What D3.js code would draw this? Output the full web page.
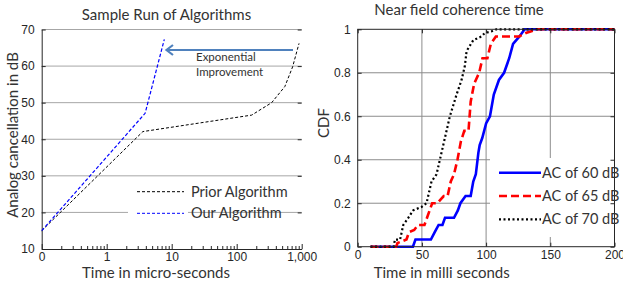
<!DOCTYPE html>
<html>
<head>
<meta charset="utf-8">
<script src="https://cdn.jsdelivr.net/npm/d3@7"></script>
<style>
  body { margin: 0; background: #fff; }
  svg { display: block; }
  .tick text { font-family: "Liberation Sans", Arial, sans-serif; font-size: 12px; fill: #262626; }
  .lbl { font-family: Lato, "Open Sans", sans-serif; fill: #333; }
</style>
</head>
<body>
<script>
// ---- left chart data: sample run of algorithms ----
var priorTime = [0.1, 3.6, 170, 345, 550, 725, 910];
var priorDb   = [15, 42.1, 46.6, 50, 54.4, 59.8, 66.2];
var ourTime   = [0.1, 3.9, 7.7];
var ourDb     = [15, 47.1, 67.3];
var leftXTicks  = [0.1, 1, 10, 100, 1000];
var leftXLabels = ["0", "1", "10", "100", "1,000"];
var leftYTicks  = [10, 20, 30, 40, 50, 60, 70];

// ---- right chart data: CDF of near field coherence time ----
var ac60X = [10, 43, 45, 57, 60, 63, 66, 68, 75, 78, 80, 84, 88, 90, 92, 94, 95, 97, 100, 103, 106, 110, 114, 118, 121, 126, 130, 200];
var ac60Y = [0, 0, 0.033, 0.033, 0.067, 0.1, 0.1, 0.133, 0.133, 0.167, 0.2, 0.233, 0.233, 0.3, 0.333, 0.433, 0.467, 0.5, 0.567, 0.6, 0.7, 0.767, 0.8, 0.867, 0.933, 0.967, 1, 1];
var ac65X = [10, 30, 31, 38, 40, 44, 47, 52, 54, 58, 62, 67, 70, 72.5, 75, 77.7, 80.3, 83, 86.3, 88, 90.7, 94.6, 97.2, 101, 103.7, 107.6, 125.8, 131, 140, 200];
var ac65Y = [0, 0, 0.017, 0.033, 0.067, 0.077, 0.1, 0.1, 0.133, 0.2, 0.2, 0.233, 0.233, 0.3, 0.333, 0.4, 0.483, 0.533, 0.533, 0.667, 0.75, 0.8, 0.867, 0.867, 0.933, 0.967, 0.967, 0.983, 1, 1];
var ac70X = [10, 28, 29, 33, 35.5, 39.4, 43.2, 49.7, 53.6, 57.5, 61.4, 64, 67.9, 71.8, 77, 80.9, 83.5, 84.8, 90, 96.4, 99, 104, 108, 200];
var ac70Y = [0, 0, 0.033, 0.033, 0.1, 0.133, 0.167, 0.183, 0.2, 0.3, 0.333, 0.4, 0.5, 0.6, 0.7, 0.767, 0.833, 0.9, 0.95, 0.967, 0.983, 0.99, 1, 1];
var rightXTicks = [0, 50, 100, 150, 200];
var rightYTicks = [0, 0.2, 0.4, 0.6, 0.8, 1];
var seriesNames = ["AC of 60 dB", "AC of 65 dB", "AC of 70 dB"];

var svg = d3.select("body").append("svg")
  .attr("width", 623)
  .attr("height", 285);

// ================= left chart =================
var lx = d3.scaleLog().domain([0.1, 1000]).range([41.7, 301.7]);
var ly = d3.scaleLinear().domain([10, 70]).range([249, 29.5]);
var left = svg.append("g");

// horizontal grid
left.selectAll(".hgrid")
  .data(leftYTicks.slice(1))
  .enter().append("line")
  .attr("x1", lx(0.1)).attr("x2", lx(1000))
  .attr("y1", function(d) { return ly(d); })
  .attr("y2", function(d) { return ly(d); })
  .attr("stroke", "#a6a6a6").attr("stroke-width", 1);

// y axis (ticks inside)
var lyAxis = left.append("g")
  .attr("transform", "translate(" + lx(0.1) + ",0)")
  .call(d3.axisLeft(ly).tickValues(leftYTicks).tickSizeInner(-4).tickSizeOuter(0).tickPadding(7));
lyAxis.select(".domain").attr("stroke", "#262626");
lyAxis.selectAll(".tick line").attr("stroke", "#262626");

// right side ticks only
left.append("g")
  .attr("transform", "translate(" + lx(1000) + ",0)")
  .call(d3.axisRight(ly).tickValues(leftYTicks).tickSizeInner(-4).tickSizeOuter(0).tickFormat(""))
  .call(function(g) { g.select(".domain").remove(); g.selectAll(".tick line").attr("stroke", "#262626"); });

// x axis, major ticks with labels
var lxAxis = left.append("g")
  .attr("transform", "translate(0," + ly(10) + ")")
  .call(d3.axisBottom(lx).tickValues(leftXTicks).tickSizeInner(-5).tickSizeOuter(0).tickPadding(3)
    .tickFormat(function(d, i) { return leftXLabels[i]; }));
lxAxis.select(".domain").attr("stroke", "#262626");
lxAxis.selectAll(".tick line").attr("stroke", "#262626");

// x axis minor ticks
var minor = [];
[0.1, 1, 10, 100].forEach(function(dec) {
  for (var k = 2; k <= 9; k++) minor.push(dec * k);
});
left.append("g")
  .attr("transform", "translate(0," + ly(10) + ")")
  .call(d3.axisBottom(lx).tickValues(minor).tickSizeInner(-3).tickSizeOuter(0).tickFormat(""))
  .call(function(g) { g.select(".domain").remove(); g.selectAll(".tick line").attr("stroke", "#262626"); });

// lines
var lineLeft = d3.line()
  .x(function(d) { return lx(d[0]); })
  .y(function(d) { return ly(d[1]); });

left.append("path")
  .datum(d3.zip(priorTime, priorDb))
  .attr("d", lineLeft)
  .attr("fill", "none").attr("stroke", "#000").attr("stroke-width", 1)
  .attr("stroke-dasharray", "3,2");

left.append("path")
  .datum(d3.zip(ourTime, ourDb))
  .attr("d", lineLeft)
  .attr("fill", "none").attr("stroke", "#0000ff").attr("stroke-width", 1.2)
  .attr("stroke-dasharray", "3.5,2");

// legend
left.append("rect")
  .attr("x", 128).attr("y", 183).attr("width", 60).attr("height", 38)
  .attr("fill", "#fff");
var leftLegend = [["Prior Algorithm", "#000"], ["Our Algorithm", "#0000ff"]];
leftLegend.forEach(function(d, i) {
  var yy = 191.7 + i * 21.6;
  left.append("line")
    .attr("x1", 137).attr("x2", 184).attr("y1", yy).attr("y2", yy)
    .attr("stroke", d[1]).attr("stroke-width", 1).attr("stroke-dasharray", "3,2");
  left.append("text").attr("class", "lbl")
    .attr("x", 191).attr("y", yy).attr("dy", "0.35em")
    .attr("font-size", 14.5).text(d[0]);
});

// arrow: shaft and open head
left.append("line")
  .attr("x1", 293).attr("x2", 167).attr("y1", 50).attr("y2", 50)
  .attr("stroke", "#4f81bd").attr("stroke-width", 2.2);
left.append("path")
  .attr("d", "M173,45 L166.5,50 L173,55")
  .attr("fill", "none").attr("stroke", "#4f81bd").attr("stroke-width", 2.2);
left.append("text").attr("class", "lbl")
  .attr("x", 196).attr("y", 57).attr("dy", "0.35em")
  .attr("font-size", 11.5).text("Exponential");
left.append("text").attr("class", "lbl")
  .attr("x", 196).attr("y", 72).attr("dy", "0.35em")
  .attr("font-size", 11.5).text("Improvement");

// titles
left.append("text").attr("class", "lbl")
  .attr("x", 166.5).attr("y", 15).attr("dy", "0.35em")
  .attr("text-anchor", "middle").attr("font-size", 15).text("Sample Run of Algorithms");
left.append("text").attr("class", "lbl")
  .attr("x", 156).attr("y", 272.7).attr("dy", "0.35em")
  .attr("text-anchor", "middle").attr("font-size", 15).text("Time in micro-seconds");
left.append("text").attr("class", "lbl")
  .attr("transform", "translate(12.5,135) rotate(-90)")
  .attr("dy", "0.35em")
  .attr("text-anchor", "middle").attr("font-size", 15).text("Analog cancellation in dB");

// ================= right chart =================
var rx = d3.scaleLinear().domain([0, 200]).range([357.7, 614.5]);
var ry = d3.scaleLinear().domain([0, 1]).range([246.7, 29.3]);
var right = svg.append("g");

// grid
right.selectAll(".vgrid")
  .data(rightXTicks.slice(1, -1))
  .enter().append("line")
  .attr("x1", function(d) { return rx(d); }).attr("x2", function(d) { return rx(d); })
  .attr("y1", ry(0)).attr("y2", ry(1))
  .attr("stroke", "#8c8c8c").attr("stroke-width", 1);
right.selectAll(".hgrid")
  .data(rightYTicks.slice(1, -1))
  .enter().append("line")
  .attr("x1", rx(0)).attr("x2", rx(200))
  .attr("y1", function(d) { return ry(d); }).attr("y2", function(d) { return ry(d); })
  .attr("stroke", "#8c8c8c").attr("stroke-width", 1);

// series
var lineRight = d3.line()
  .x(function(d) { return rx(d[0]); })
  .y(function(d) { return ry(d[1]); });
var series = [
  { x: ac60X, y: ac60Y, color: "#0000ff", width: 2.6, dash: null },
  { x: ac65X, y: ac65Y, color: "#ff0000", width: 2.6, dash: "8,4" },
  { x: ac70X, y: ac70Y, color: "#000", width: 2.2, dash: "2,2.5" }
];
series.forEach(function(s) {
  right.append("path")
    .datum(d3.zip(s.x, s.y))
    .attr("d", lineRight)
    .attr("fill", "none").attr("stroke", s.color).attr("stroke-width", s.width)
    .attr("stroke-dasharray", s.dash);
});

// legend background
right.append("rect")
  .attr("x", 490).attr("y", 158).attr("width", 130).attr("height", 79)
  .attr("fill", "#fff");

// frame and ticks
function cleanAxis(g) {
  g.select(".domain").remove();
  g.selectAll(".tick line").attr("stroke", "#262626");
}
right.append("g").attr("transform", "translate(" + rx(0) + ",0)")
  .call(d3.axisLeft(ry).tickValues(rightYTicks).tickSizeInner(-4).tickSizeOuter(0).tickPadding(7)
    .tickFormat(function(d) { return d === 0 || d === 1 ? d3.format("d")(d) : d3.format(".1f")(d); }))
  .call(cleanAxis);
right.append("g").attr("transform", "translate(" + rx(200) + ",0)")
  .call(d3.axisRight(ry).tickValues(rightYTicks).tickSizeInner(-4).tickSizeOuter(0).tickFormat(""))
  .call(cleanAxis);
right.append("g").attr("transform", "translate(0," + ry(0) + ")")
  .call(d3.axisBottom(rx).tickValues(rightXTicks).tickSizeInner(-4).tickSizeOuter(0).tickPadding(4))
  .call(cleanAxis);
right.append("g").attr("transform", "translate(0," + ry(1) + ")")
  .call(d3.axisTop(rx).tickValues(rightXTicks).tickSizeInner(-4).tickSizeOuter(0).tickFormat(""))
  .call(cleanAxis);
right.append("rect")
  .attr("x", rx(0)).attr("y", ry(1))
  .attr("width", rx(200) - rx(0)).attr("height", ry(0) - ry(1))
  .attr("fill", "none").attr("stroke", "#262626").attr("stroke-width", 1);

// legend
series.forEach(function(s, i) {
  var yy = 172.7 + i * 23.3;
  right.append("line")
    .attr("x1", 499).attr("x2", 541).attr("y1", yy).attr("y2", yy)
    .attr("stroke", s.color).attr("stroke-width", s.width)
    .attr("stroke-dasharray", s.dash);
  right.append("text").attr("class", "lbl")
    .attr("x", 542).attr("y", yy).attr("dy", "0.35em")
    .attr("font-size", 14.5).text(seriesNames[i]);
});

// titles
right.append("text").attr("class", "lbl")
  .attr("x", 459).attr("y", 10).attr("dy", "0.35em")
  .attr("text-anchor", "middle").attr("font-size", 15).text("Near field coherence time");
right.append("text").attr("class", "lbl")
  .attr("x", 441.7).attr("y", 273).attr("dy", "0.35em")
  .attr("text-anchor", "middle").attr("font-size", 15).text("Time in milli seconds");
right.append("text").attr("class", "lbl")
  .attr("transform", "translate(324,123) rotate(-90)")
  .attr("dy", "0.35em")
  .attr("text-anchor", "middle").attr("font-size", 15).text("CDF");
</script>
</body>
</html>
